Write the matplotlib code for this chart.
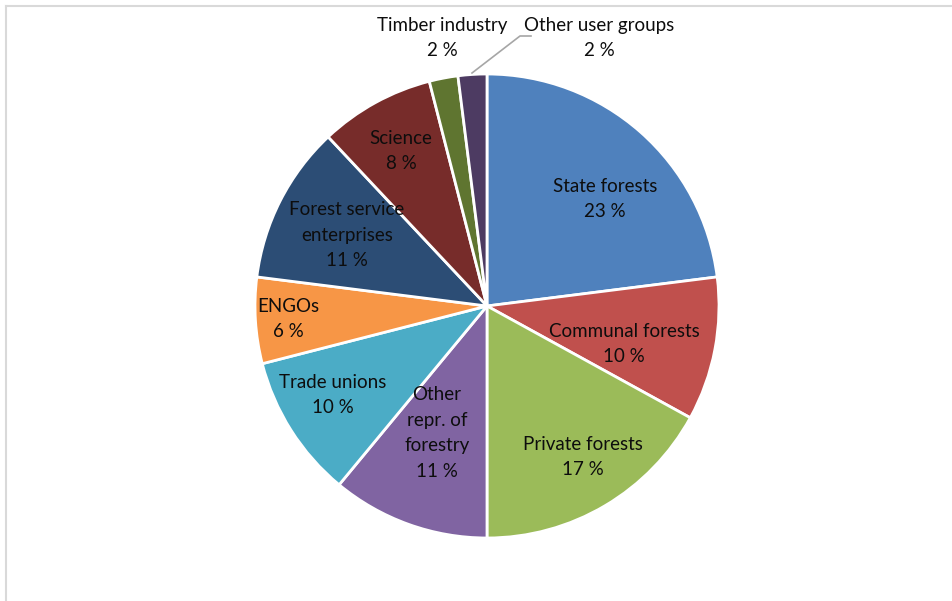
import matplotlib
matplotlib.use("Agg")
import matplotlib.pyplot as plt
from matplotlib.lines import Line2D

plt.rcParams['font.family'] = ['Lato', 'DejaVu Sans']

labels = ["State forests", "Communal forests", "Private forests", "Other\nrepr. of\nforestry",
          "Trade unions", "ENGOs", "Forest service\nenterprises", "Science",
          "Timber industry", "Other user groups"]
shares = [23, 10, 17, 11, 10, 6, 11, 8, 2, 2]
colors = ["#4F81BD", "#C0504D", "#9BBB59", "#8064A2", "#4BACC6",
          "#F79646", "#2C4D75", "#772C2A", "#5F7530", "#4D3B62"]

# label centres in pixels (from top-left of the image)
label_pos = [(605, 199), (624, 344), (583, 457), (437, 433), (333, 395),
             (288, 319), (347, 235), (401, 151), (442, 38), (599, 38)]

W, H = 953, 601
cx, cy, R = 487, 306, 232

fig = plt.figure(figsize=(W / 100, H / 100), dpi=100)
ax = fig.add_axes([0, 0, 1, 1])

ax.pie(shares, colors=colors, startangle=90, counterclock=False,
       center=(cx, H - cy), radius=R,
       wedgeprops=dict(edgecolor='white', linewidth=2))
ax.set_xlim(0, W)
ax.set_ylim(0, H)
ax.set_aspect('equal')
ax.axis('off')

for lab, val, (px, py) in zip(labels, shares, label_pos):
    ax.text(px, H - py, f"{lab}\n{val} %", ha='center', va='center',
            fontsize=13.5, color='#0D0D0D', linespacing=1.6)

# leader line for the last small slice
ax.plot([472, 520, 531], [H - 73, H - 36, H - 36], color='#A6A6A6', lw=1.2)

# chart frame (partly outside the picture)
fig.add_artist(Line2D([6 / W, 1], [1 - 6 / H, 1 - 6 / H], color='#D9D9D9', lw=1.5))
fig.add_artist(Line2D([6 / W, 6 / W], [0, 1 - 6 / H], color='#D9D9D9', lw=1.5))

fig.savefig("out.png", dpi=100, facecolor='white')
